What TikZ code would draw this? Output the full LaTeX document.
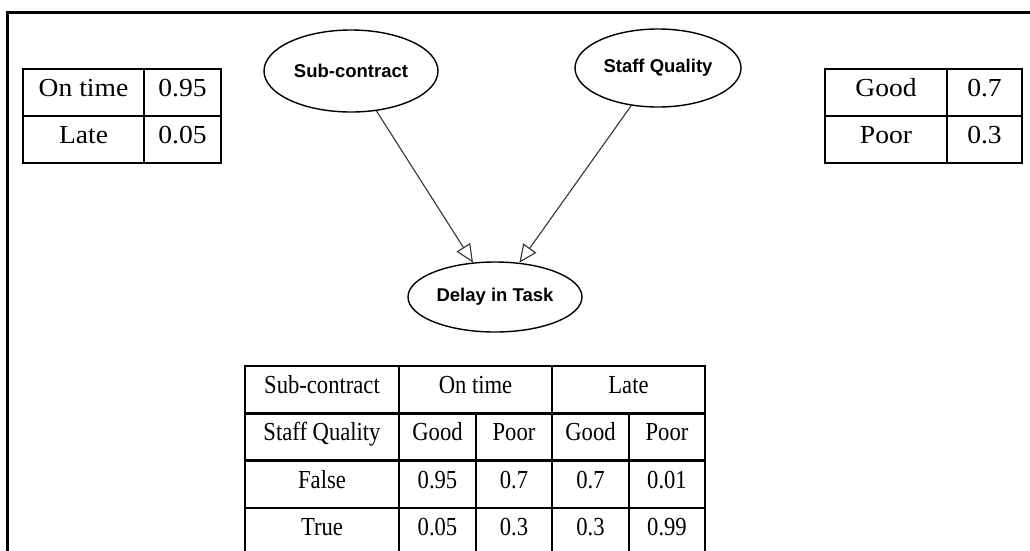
\documentclass[tikz,border=0pt]{standalone}
\usepackage{fontspec}
\setmainfont{Liberation Serif}
\newfontfamily\toptab[FakeStretch=1.06]{Liberation Serif}
\newfontfamily\bottab[FakeStretch=0.87]{Liberation Serif}
\newfontfamily\nodefont{Liberation Sans}
\usetikzlibrary{shapes.geometric}
\usetikzlibrary{arrows.meta}
\usetikzlibrary{positioning}

\begin{document}
\begin{tikzpicture}
[x=1pt,y=-1pt,
  onearrow/.style = {-{Triangle[open,length=18pt,width=16pt]},black!80,line width=1.1pt},
  ell/.style = {ellipse,draw,line width=1.4pt,inner sep=0pt,font=\nodefont\bfseries\fontsize{18.5}{20}\selectfont},
  tcell/.style = {rectangle,draw,line width=2.5pt,inner sep=0pt,text height=27pt,text depth=20pt,
        font=\toptab\fontsize{26}{30}\selectfont},
  bcell/.style = {rectangle,draw,line width=2.5pt,inner sep=0pt,text height=27pt,text depth=20pt,
        font=\bottab\fontsize{26}{30}\selectfont}]
\useasboundingbox (0,0) rectangle (1030,550);
\clip (0,0) rectangle (1030,550);
%
\draw[line width=3pt] (7.5,600) |- (1100,12);
%
\node[ell,minimum width=174pt,minimum height=82pt] (SUB) at (351,71) {Sub-contract};
\node[ell,minimum width=166pt,minimum height=78pt] (STAFF) at (658,68) {Staff Quality};
\node[ell,minimum width=174pt,minimum height=70pt] (DELAY) at (495,297) {Delay in Task};
%
   \path[onearrow] (SUB) edge (DELAY) ;
   \path[onearrow] (STAFF) edge (DELAY) ;
%
%  prior of sub-contract
\node[tcell,minimum width=121pt] (S1) at (83.5,92.5) {On time};
\node[tcell,minimum width=77pt] (S1p) at (182.5,92.5) {0.95};
\node[tcell,minimum width=121pt] (S2) at (83.5,139.5) {Late};
\node[tcell,minimum width=77pt] (S2p) at (182.5,139.5) {0.05};
%
%  prior of staff quality
\node[tcell,minimum width=122pt] (Q1) at (886,92.5) {Good};
\node[tcell,minimum width=75pt] (Q1p) at (984.5,92.5) {0.7};
\node[tcell,minimum width=122pt] (Q2) at (886,139.5) {Poor};
\node[tcell,minimum width=75pt] (Q2p) at (984.5,139.5) {0.3};
%
%  conditional table of delay
\node[bcell,minimum width=154pt] (H1) at (322,389.5) {Sub-contract};
\node[bcell,minimum width=153pt] (H2) at (475.5,389.5) {On time};
\node[bcell,minimum width=153pt] (H3) at (628.5,389.5) {Late};
%
\node[bcell,minimum width=154pt] (G1) at (322,437) {Staff Quality};
\node[bcell,minimum width=77pt] (G2) at (437.5,437) {Good};
\node[bcell,minimum width=76pt] (G3) at (514,437) {Poor};
\node[bcell,minimum width=77pt] (G4) at (590.5,437) {Good};
\node[bcell,minimum width=76pt] (G5) at (667,437) {Poor};
%
\node[bcell,minimum width=154pt] (F1) at (322,484.5) {False};
\node[bcell,minimum width=77pt] (F2) at (437.5,484.5) {0.95};
\node[bcell,minimum width=76pt] (F3) at (514,484.5) {0.7};
\node[bcell,minimum width=77pt] (F4) at (590.5,484.5) {0.7};
\node[bcell,minimum width=76pt] (F5) at (667,484.5) {0.01};
%
\node[bcell,minimum width=154pt] (T1) at (322,531.5) {True};
\node[bcell,minimum width=77pt] (T2) at (437.5,531.5) {0.05};
\node[bcell,minimum width=76pt] (T3) at (514,531.5) {0.3};
\node[bcell,minimum width=77pt] (T4) at (590.5,531.5) {0.3};
\node[bcell,minimum width=76pt] (T5) at (667,531.5) {0.99};
\end{tikzpicture}
\end{document}
